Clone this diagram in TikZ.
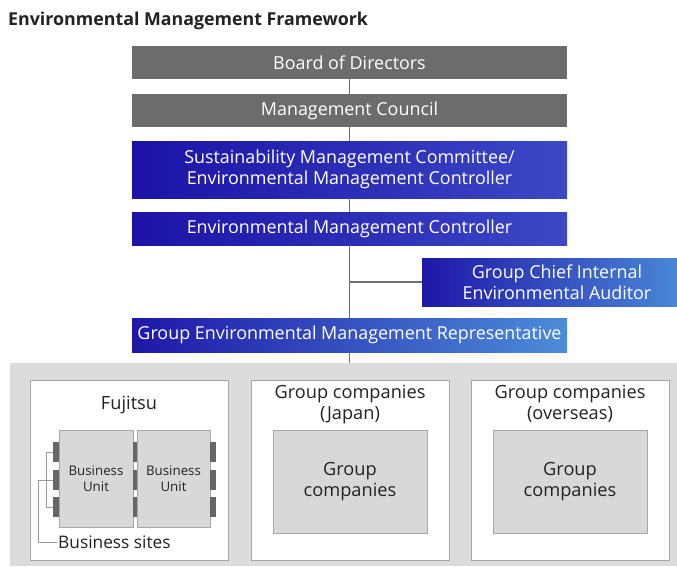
\documentclass[tikz,border=0pt]{standalone}
\usepackage{fontspec}
\setmainfont{Open Sans}
\definecolor{cgray}{HTML}{6B6C6D}
\definecolor{bdark}{HTML}{1C12A6}
\definecolor{bmid}{HTML}{2A2CB2}
\definecolor{blight}{HTML}{3C48C6}
\definecolor{bsky}{HTML}{4C8CD8}
\definecolor{cline}{HTML}{6E6E6E}
\definecolor{cbg}{HTML}{DCDCDC}
\definecolor{cinner}{HTML}{D8D8D8}
\definecolor{cedge}{HTML}{A6A6A6}
\definecolor{ctab}{HTML}{666666}
\definecolor{ctext}{HTML}{222222}
\begin{document}
\begin{tikzpicture}[x=1pt,y=-1pt,
  boxbase/.style={inner sep=0pt, outer sep=0pt, anchor=north west, text=white, align=center,
    font=\fontsize{17.9}{21.5}\selectfont},
  graybox/.style={boxbase, fill=cgray},
  bluebox/.style={boxbase, left color=bdark, middle color=bdark!85!blight, right color=blight},
  skybox/.style={boxbase, left color=bdark!80!bmid, middle color=bmid!60!bsky, right color=bsky},
  outerbox/.style={inner sep=0pt, outer sep=0pt, anchor=north west, fill=white, draw=cedge, line width=0.8pt},
  innerbox/.style={inner sep=0pt, outer sep=0pt, anchor=north west, fill=cinner, draw=cedge, line width=0.8pt},
  tabbox/.style={inner sep=0pt, outer sep=0pt, anchor=north west, fill=ctab, minimum width=6pt, minimum height=20pt},
  midtab/.style={tabbox, minimum width=4pt},
  label/.style={text=ctext, align=center, inner sep=0pt, font=\fontsize{18.2}{21}\selectfont},
  conn/.style={draw=cline, line width=1.3pt},
  bracket/.style={draw=cline!70!white, line width=0.9pt}
]
\useasboundingbox (0,0) rectangle (677,566);

% title
\node[anchor=west, inner sep=0pt, text=ctext, font=\fontsize{17.8}{20}\selectfont\bfseries] (title) at (8,21) {Environmental Management Framework};

% hierarchy boxes
\node[graybox, minimum width=435pt, minimum height=33pt] (bod) at (132,46) {Board of Directors};
\node[graybox, minimum width=435pt, minimum height=33pt] (mc) at (132,94) {Management Council};
\node[bluebox, minimum width=435pt, minimum height=57pt] (smc) at (132,141) {Sustainability Management Committee/\\Environmental Management Controller};
\node[bluebox, minimum width=435pt, minimum height=33pt] (emc) at (132,212) {Environmental Management Controller};
\node[skybox, minimum width=270pt, minimum height=48pt] (aud) at (422,258) {Group Chief Internal\\Environmental Auditor};
\node[skybox, minimum width=435pt, minimum height=34pt] (gemr) at (132,318) {Group Environmental Management Representative};

% group area
\node[inner sep=0pt, outer sep=0pt, anchor=north west, fill=cbg, minimum width=667pt, minimum height=203pt] (grp) at (10,363) {};

% connectors
\draw[conn] (bod.south) -- (mc.north);
\draw[conn] (mc.south) -- (smc.north);
\draw[conn] (smc.south) -- (emc.north);
\draw[conn] (emc.south) -- (gemr.north);
\draw[conn] (aud.west) -- (aud.west -| emc.south);
\draw[conn] (gemr.south) -- (gemr.south |- grp.north);

% three company boxes
\node[outerbox, minimum width=198pt, minimum height=180pt] (fuj) at (30,380) {};
\node[outerbox, minimum width=198pt, minimum height=180pt] (jpn) at (251,380) {};
\node[outerbox, minimum width=198pt, minimum height=180pt] (ovs) at (471,380) {};

\node[label] (fujl) at (129,405) {Fujitsu};
\node[label] (jpnl) at (350,404) {Group companies\\(Japan)};
\node[label] (ovsl) at (570,404) {Group companies\\(overseas)};

\node[innerbox, minimum width=154pt, minimum height=103pt] (jin) at (273,430) {};
\node[innerbox, minimum width=154pt, minimum height=103pt] (oin) at (493,430) {};
\node[label] (jinl) at (jin.center) {Group\\companies};
\node[label] (oinl) at (oin.center) {Group\\companies};

% business units
\node[innerbox, minimum width=74pt, minimum height=97pt] (bu1) at (59,430) {};
\node[innerbox, minimum width=73pt, minimum height=97pt] (bu2) at (137,430) {};
\node[label, font=\fontsize{13.3}{16}\selectfont] (bu1l) at (bu1.center) {Business\\Unit};
\node[label, font=\fontsize{13.3}{16}\selectfont] (bu2l) at (bu2.center) {Business\\Unit};

% tabs
\node[tabbox] (t1) at (53,442) {};
\node[tabbox] (t2) at (53,470) {};
\node[tabbox] (t3) at (53,497) {};
\node[midtab] (m1) at (133,442) {};
\node[midtab] (m2) at (133,470) {};
\node[midtab] (m3) at (133,497) {};
\node[tabbox] (r1) at (210,442) {};
\node[tabbox] (r2) at (210,470) {};
\node[tabbox] (r3) at (210,497) {};

% business sites
\node[label, anchor=west, font=\fontsize{17.3}{19}\selectfont, inner sep=1pt] (bs) at (57,542) {Business sites};
\draw[bracket] (t1.west) -- ++(-7,0) |- (t3.west);
\draw[bracket] (t2.west) -- ++(-15,0) |- (bs.west);
\end{tikzpicture}
\end{document}
